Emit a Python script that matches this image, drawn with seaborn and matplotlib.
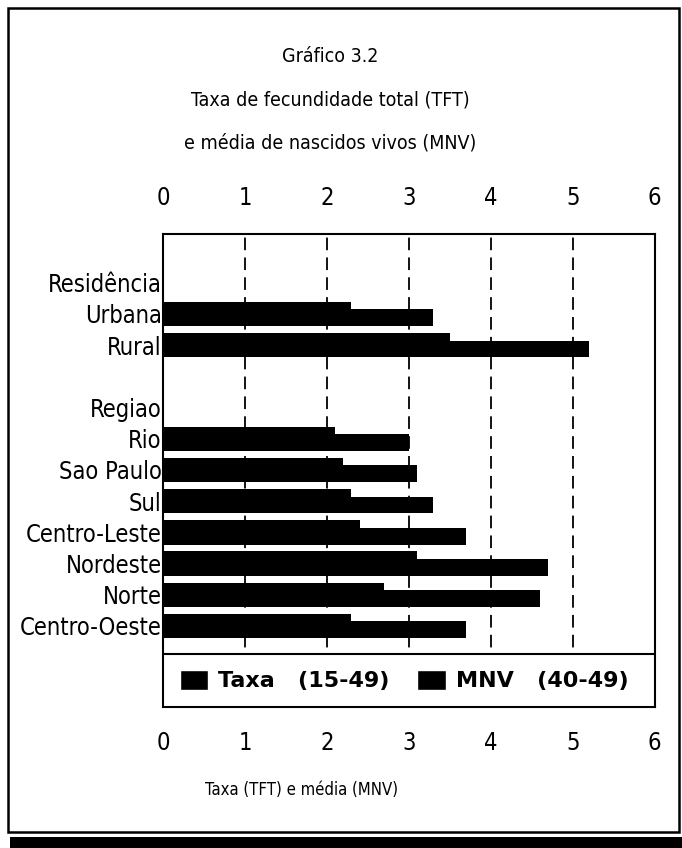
# Grafico 3.2 - taxa de fecundidade total e media de nascidos vivos
import pandas as pd
import matplotlib.pyplot as plt
import seaborn as sns
from matplotlib.patches import Patch, Rectangle

# rows shown on the y axis (headers and the blank row have no bars)
rows = ['Residência', 'Urbana', 'Rural', '', 'Regiao', 'Rio', 'Sao Paulo',
        'Sul', 'Centro-Leste', 'Nordeste', 'Norte', 'Centro-Oeste']
categories = ['Urbana', 'Rural', 'Rio', 'Sao Paulo', 'Sul', 'Centro-Leste',
              'Nordeste', 'Norte', 'Centro-Oeste']
taxa = [2.3, 3.5, 2.1, 2.2, 2.3, 2.4, 3.1, 2.7, 2.3]
mnv = [3.3, 5.2, 3.0, 3.1, 3.3, 3.7, 4.7, 4.6, 3.7]
xticks = [0, 1, 2, 3, 4, 5, 6]

df = pd.DataFrame({'categoria': categories, 'Taxa': taxa, 'MNV': mnv})
df['pos'] = [rows.index(c) for c in categories]

sns.set_style('white')
plt.rcParams['font.family'] = ['DejaVu Sans']
plt.rcParams['font.stretch'] = 'condensed'
plt.rcParams['text.color'] = 'black'
plt.rcParams['xtick.color'] = 'black'
plt.rcParams['ytick.color'] = 'black'

fig = plt.figure(figsize=(6.82, 8.48), dpi=100)
ax = fig.add_axes([0.239, 0.1663, 0.721, 0.5578])

sns.barplot(x=df['Taxa'], y=df['pos'] - 0.125, orient='y', native_scale=True,
            color='black', saturation=1, width=0.52, linewidth=0, ax=ax)
sns.barplot(x=df['MNV'], y=df['pos'] + 0.125, orient='y', native_scale=True,
            color='black', saturation=1, width=0.54, linewidth=0, ax=ax)

ax.set_xlim(0, 6)
ax.set_ylim(13.6, -1.56)
ax.set_xticks(xticks)
ax.set_xticklabels([str(t) for t in xticks], fontsize=17, fontstretch='condensed')
ax.set_yticks(range(len(rows)))
ax.set_yticklabels(rows, fontsize=17, fontstretch='condensed')
ax.tick_params(axis='x', labeltop=True, labelbottom=True, top=False,
               bottom=False, length=0, pad=17)
ax.tick_params(axis='y', length=0, pad=1)
ax.set_xlabel('')
ax.set_ylabel('')

ax.grid(axis='x', color='black', linestyle=(0, (7, 4)), linewidth=1.3)
ax.grid(axis='y', visible=False)
ax.set_axisbelow(True)
for s in ax.spines.values():
    s.set_visible(True)
    s.set_color('black')
    s.set_linewidth(1.5)

# legend box across the bottom of the axes
ax.add_patch(Rectangle((0, 0), 1, 0.112, transform=ax.transAxes, fc='white',
                       ec='black', lw=1.5, zorder=3))
handles = [Patch(facecolor='black', label='Taxa   (15-49)'),
           Patch(facecolor='black', label='MNV   (40-49)')]
leg = ax.legend(handles=handles, loc='center left', bbox_to_anchor=(0.0346, 0.056),
                ncol=2, frameon=False, borderaxespad=0, borderpad=0,
                prop={'family': 'DejaVu Sans', 'weight': 'bold', 'size': 16,
                      'stretch': 'normal'},
                handlelength=1.27, handleheight=1.0, handletextpad=0.45,
                columnspacing=1.25)
leg.set_zorder(4)

# titles
fig.text(330 / 682, 1 - 56 / 848, 'Gráfico 3.2', ha='center', va='center', fontsize=14)
fig.text(330 / 682, 1 - 100 / 848, 'Taxa de fecundidade total (TFT)',
         ha='center', va='center', fontsize=14)
fig.text(330 / 682, 1 - 143 / 848, 'e média de nascidos vivos (MNV)',
         ha='center', va='center', fontsize=14)
fig.text(205 / 682, 1 - 790 / 848, 'Taxa (TFT) e média (MNV)',
         ha='left', va='center', fontsize=12)

# page frame
fig.add_artist(Rectangle((8 / 682, 1 - 832 / 848), 671 / 682, 824 / 848,
                         transform=fig.transFigure, fill=False, lw=1.8, ec='black'))
fig.add_artist(Rectangle((10 / 682, 0), 672 / 682, 11 / 848,
                         transform=fig.transFigure, fc='black', ec='none'))

fig.savefig('out.png', dpi=100)
